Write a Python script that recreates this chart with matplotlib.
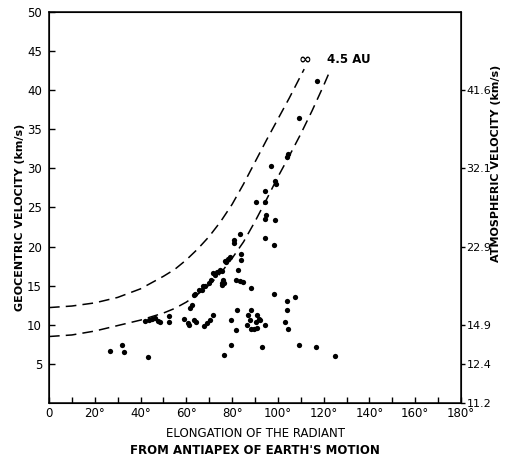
import matplotlib
matplotlib.use('Agg')
import matplotlib.pyplot as plt

# observed meteors: elongation of radiant from antiapex (deg), geocentric velocity (km/s)
elong = [26.7, 31.9, 32.8, 43.2,
         42.0, 43.5, 45.2, 46.4, 47.8, 48.6, 52.5, 52.5,
         59.1, 60.6, 61.3, 63.5, 64.2, 67.8, 69.0, 70.5, 71.8,
         61.6, 62.3, 63.5, 64.0, 65.7, 66.7, 67.5, 68.1, 70.0, 70.7,
         71.7, 72.6, 73.2, 74.6, 75.5, 75.4, 75.8, 76.1, 76.5, 76.8,
         77.5, 78.3, 79.0, 80.9, 80.9, 83.3, 82.6, 84.1, 84.1, 81.9,
         83.3, 84.8, 88.1,
         90.6, 94.2, 94.5, 96.8, 98.6, 99.1, 103.9, 104.5, 109.4, 117.1,
         94.9, 94.2, 98.6, 94.2, 98.1,
         98.3, 103.9, 107.5, 103.9, 103.0, 104.5, 109.1, 116.7, 124.8, 93.2,
         79.4, 81.9, 82.2, 79.7, 76.5, 87.1, 87.8, 86.7, 88.1, 88.1,
         89.6, 91.0, 90.3, 91.0, 91.7, 92.4, 94.6]
vgeo = [6.7, 7.4, 6.5, 5.9,
        10.5, 10.6, 10.8, 10.9, 10.5, 10.3, 11.1, 10.3,
        10.8, 10.2, 10.0, 10.6, 10.4, 9.8, 10.2, 10.6, 11.3,
        12.1, 12.5, 13.8, 14.0, 14.4, 14.5, 14.9, 15.0, 15.3, 15.7,
        16.6, 16.4, 16.8, 17.0, 16.9, 15.1, 15.4, 15.7, 15.4, 18.1,
        18.0, 18.4, 18.7, 20.4, 20.8, 21.6, 17.0, 18.3, 19.1, 15.7,
        15.6, 15.5, 14.7,
        25.7, 25.7, 27.1, 30.3, 28.4, 28.0, 31.5, 31.8, 36.4, 41.2,
        24.0, 23.5, 23.4, 21.1, 20.2,
        14.0, 13.1, 13.5, 11.9, 10.3, 9.5, 7.4, 7.2, 6.0, 7.1,
        10.6, 9.3, 11.9, 7.4, 6.1, 11.3, 10.6, 10.0, 11.9, 9.4,
        9.5, 9.6, 10.4, 11.3, 10.8, 10.6, 10.0]

# limiting curves (parabolic orbit and aphelion 4.5 AU)
inf_x = [0, 10, 20, 30, 40, 50, 55, 60, 65, 70, 75, 80, 85, 90, 95, 100, 105, 111.5]
inf_y = [12.2, 12.4, 12.8, 13.5, 14.6, 16.2, 17.1, 18.3, 19.7, 21.3, 23.2, 25.4, 28.0,
         30.8, 33.6, 36.3, 39.0, 42.7]
au_x = [0, 10, 20, 30, 40, 50, 55, 60, 65, 70, 75, 80, 85, 90, 95, 100, 105, 110,
        115, 120, 122.5]
au_y = [8.5, 8.7, 9.2, 9.9, 10.6, 11.5, 12.1, 12.9, 13.9, 15.1, 16.6, 18.5, 20.6,
        23.2, 26.0, 28.9, 31.6, 34.4, 37.4, 40.6, 42.3]

x_ticks = [0, 20, 40, 60, 80, 100, 120, 140, 160, 180]
x_labels = ['0', '20°', '40°', '60°', '80°', '100°', '120°', '140°', '160°', '180°']
y_ticks = [5, 10, 15, 20, 25, 30, 35, 40, 45, 50]
atm_ticks = [40, 30, 20, 10, 5, 0]
atm_labels = ['41.6', '32.1', '22.9', '14.9', '12.4', '11.2']

plt.rcParams['font.family'] = 'DejaVu Sans'

fig = plt.figure(figsize=(5.07, 4.63), dpi=100)
ax = fig.add_axes([0.0966, 0.1296, 0.8126, 0.8445])

ax.plot(inf_x, inf_y, color='black', lw=1.1, dashes=(7, 4))
ax.plot(au_x, au_y, color='black', lw=1.1, dashes=(7, 4))
ax.plot(elong, vgeo, 'o', color='black', markersize=3.8, markeredgewidth=0)

ax.text(112, 44.0, '∞', fontsize=11, fontweight='bold', ha='center', va='center')
ax.text(121.5, 43.9, '4.5 AU', fontsize=8.5, fontweight='bold', ha='left', va='center')

ax.set_xlim(0, 180)
ax.set_ylim(0, 50)
ax.set_xticks(x_ticks)
ax.set_xticklabels(x_labels)
ax.set_xticks(range(0, 181, 10), minor=True)
ax.set_yticks(y_ticks)
ax.tick_params(axis='both', which='both', direction='in', length=4, width=1,
               labelsize=8.5, top=False, right=False)
ax.tick_params(axis='x', pad=3)
ax.tick_params(axis='y', pad=5)
for s in ax.spines.values():
    s.set_linewidth(1.1)

ax2 = ax.twinx()
ax2.set_ylim(0, 50)
ax2.set_yticks(atm_ticks)
ax2.set_yticklabels(atm_labels)
ax2.tick_params(axis='y', direction='out', length=3, width=1, labelsize=8, pad=1)

fig.text(0.040, 0.53, 'GEOCENTRIC VELOCITY (km/s)', rotation=90, fontsize=8,
         fontweight='bold', ha='center', va='center')
fig.text(0.978, 0.648, 'ATMOSPHERIC VELOCITY (km/s)', rotation=90, fontsize=8,
         fontweight='bold', ha='center', va='center')
fig.text(0.503, 0.064, 'ELONGATION OF THE RADIANT', fontsize=8.5, ha='center', va='center')
fig.text(0.503, 0.026, "FROM ANTIAPEX OF EARTH'S MOTION", fontsize=8.5, fontweight='bold',
         ha='center', va='center')

fig.savefig('out.png', dpi=100)
